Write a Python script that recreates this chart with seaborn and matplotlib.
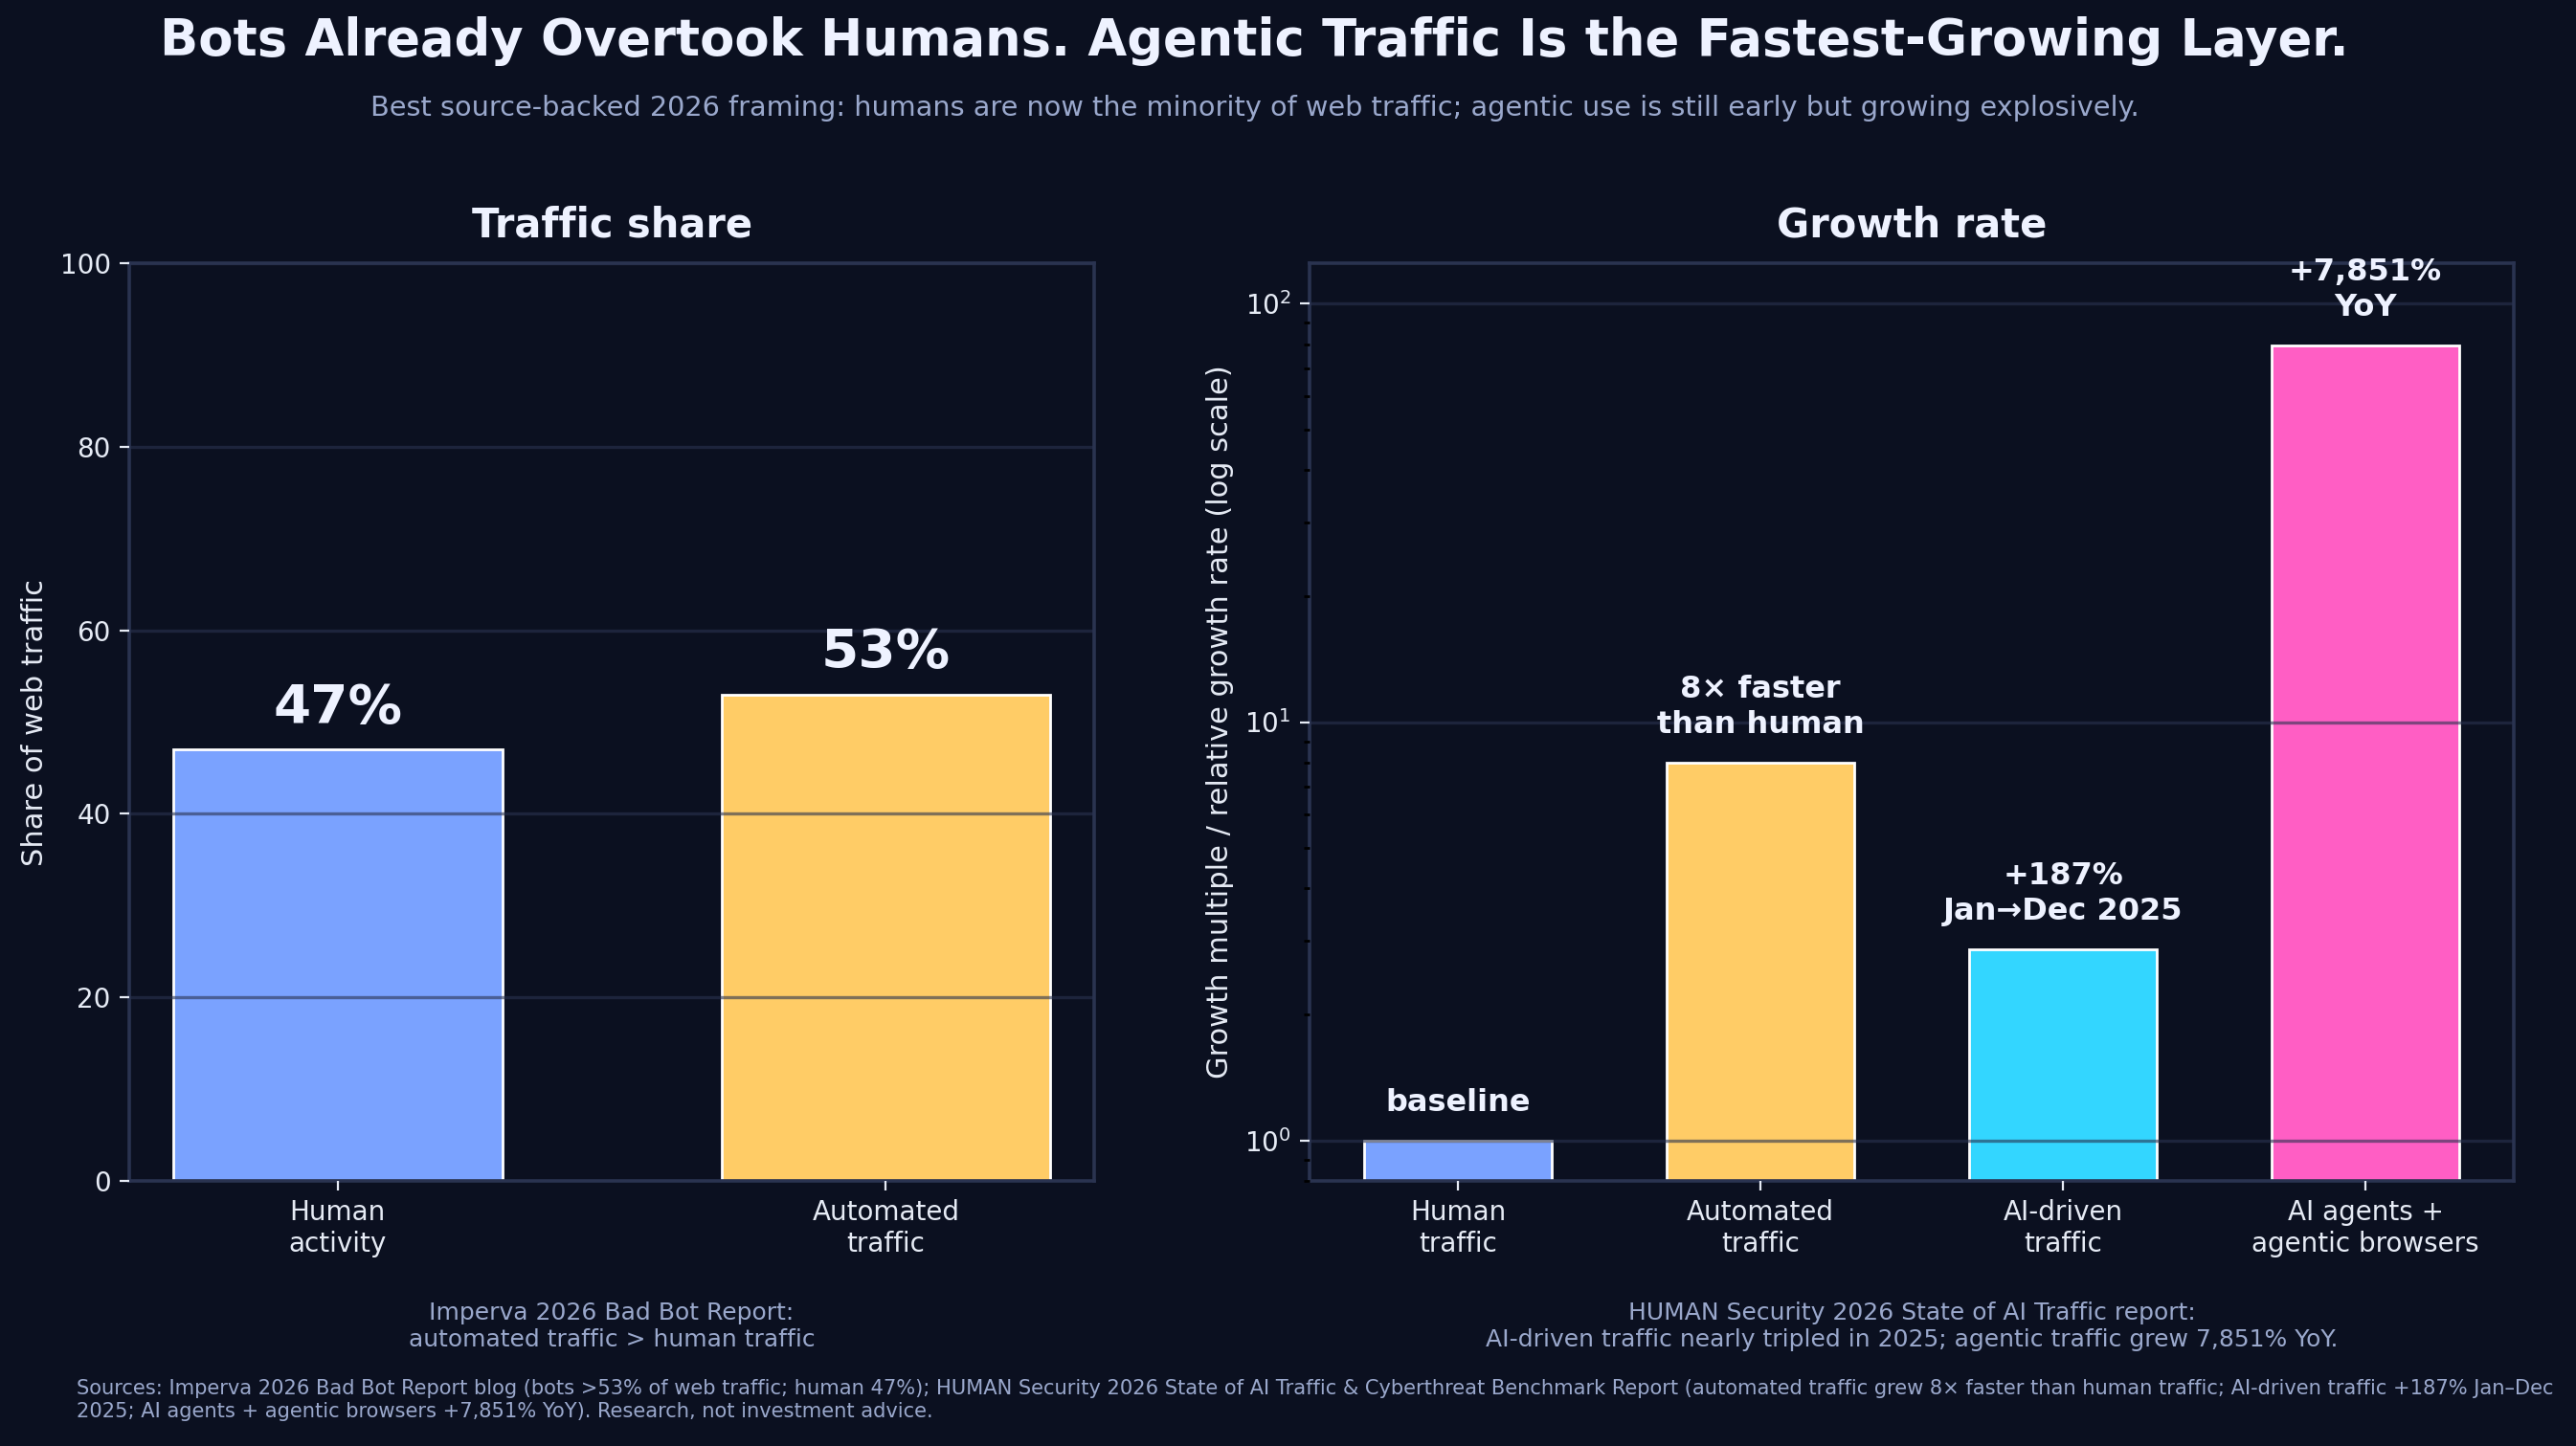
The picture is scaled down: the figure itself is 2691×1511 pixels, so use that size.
import matplotlib
matplotlib.use("Agg")
import matplotlib.pyplot as plt
import seaborn as sns
import pandas as pd

# ---- data ----
share_cats = ["Human\nactivity", "Automated\ntraffic"]
share_vals = [47, 53]
share_labels = ["47%", "53%"]

growth_cats = ["Human\ntraffic", "Automated\ntraffic", "AI-driven\ntraffic", "AI agents +\nagentic browsers"]
growth_vals = [1.0, 8.0, 2.87, 79.51]
growth_labels = ["baseline", "8× faster\nthan human", "+187%\nJan→Dec 2025", "+7,851%\nYoY"]

share_colors = ["#7aa2ff", "#ffcc66"]
growth_colors = ["#7aa2ff", "#ffcc66", "#33d6ff", "#ff5ec4"]

BG = "#0b1020"
SPINE = "#2a3350"
TXT = "#eef2ff"
MUTED = "#9aa8cc"

sns.set_theme(style="dark")
plt.rcParams["font.family"] = ["DejaVu Sans"]

fig = plt.figure(figsize=(13.455, 7.555), dpi=200, facecolor=BG)
axL = fig.add_axes([0.0502, 0.1833, 0.3746, 0.6347])
axR = fig.add_axes([0.5084, 0.1833, 0.4675, 0.6347])


def style(ax):
    ax.set_facecolor(BG)
    for s in ax.spines.values():
        s.set_visible(True)
        s.set_color(SPINE)
        s.set_linewidth(1.3)
    ax.set_axisbelow(False)
    ax.grid(axis="y", color=SPINE, alpha=0.6, linewidth=1.2)
    ax.grid(axis="x", visible=False)
    ax.tick_params(axis="both", which="major", colors="#e6ebf5", labelsize=10,
                   length=3.5, width=0.8, left=True, bottom=True)
    ax.tick_params(axis="y", which="minor", colors="black", length=2, left=True)
    ax.set_xlabel("")


# ---- left panel ----
dfL = pd.DataFrame({"cat": share_cats, "val": share_vals})
sns.barplot(data=dfL, x="cat", y="val", hue="cat", palette=share_colors, legend=False,
            width=0.6, saturation=1, edgecolor="white", linewidth=1.0, ax=axL)
style(axL)
axL.set_ylim(0, 100)
axL.set_xlim(-0.38, 1.38)
axL.set_ylabel("Share of web traffic", color="#e6ebf5", fontsize=11)
axL.set_title("Traffic share", color=TXT, fontsize=15, fontweight="bold", pad=10)
for i, (v, lab) in enumerate(zip(share_vals, share_labels)):
    axL.annotate(lab, (i, v), xytext=(0, 6), textcoords="offset points",
                 ha="center", va="bottom", fontsize=20.3, fontweight="bold", color=TXT)

# ---- right panel ----
dfR = pd.DataFrame({"cat": growth_cats, "val": growth_vals})
sns.barplot(data=dfR, x="cat", y="val", hue="cat", palette=growth_colors, legend=False,
            width=0.62, saturation=1, edgecolor="white", linewidth=1.0, ax=axR)
axR.set_yscale("log")
style(axR)
axR.set_ylim(0.8, 125)
axR.set_xlim(-0.491, 3.491)
axR.set_ylabel("Growth multiple / relative growth rate (log scale)", color="#e6ebf5", fontsize=11)
axR.set_title("Growth rate", color=TXT, fontsize=15, fontweight="bold", pad=10)
for i, (v, lab) in enumerate(zip(growth_vals, growth_labels)):
    axR.annotate(lab, (i, v), xytext=(0, 8.5), textcoords="offset points",
                 ha="center", va="bottom", fontsize=11.5, fontweight="bold", color=TXT,
                 linespacing=1.25)

# ---- figure texts ----
fig.text(0.487, 0.9715, "Bots Already Overtook Humans. Agentic Traffic Is the Fastest-Growing Layer.",
         ha="center", va="center", fontsize=19, fontweight="bold", color=TXT)
fig.text(0.487, 0.925,
         "Best source-backed 2026 framing: humans are now the minority of web traffic; agentic use is still early but growing explosively.",
         ha="center", va="center", fontsize=10.35, color=MUTED)

fig.text(0.0502 + 0.3746 / 2, 0.0827, "Imperva 2026 Bad Bot Report:\nautomated traffic > human traffic",
         ha="center", va="center", fontsize=9, color=MUTED)
fig.text(0.5084 + 0.4675 / 2, 0.0827,
         "HUMAN Security 2026 State of AI Traffic report:\nAI-driven traffic nearly tripled in 2025; agentic traffic grew 7,851% YoY.",
         ha="center", va="center", fontsize=9, color=MUTED)

fig.text(0.0297, 0.0318,
         "Sources: Imperva 2026 Bad Bot Report blog (bots >53% of web traffic; human 47%); HUMAN Security 2026 State of AI Traffic & Cyberthreat Benchmark Report (automated traffic grew 8× faster than human traffic; AI-driven traffic +187% Jan–Dec\n"
         "2025; AI agents + agentic browsers +7,851% YoY). Research, not investment advice.",
         ha="left", va="center", fontsize=7.55, color=MUTED)

fig.savefig("out.png", dpi=200, facecolor=BG)
